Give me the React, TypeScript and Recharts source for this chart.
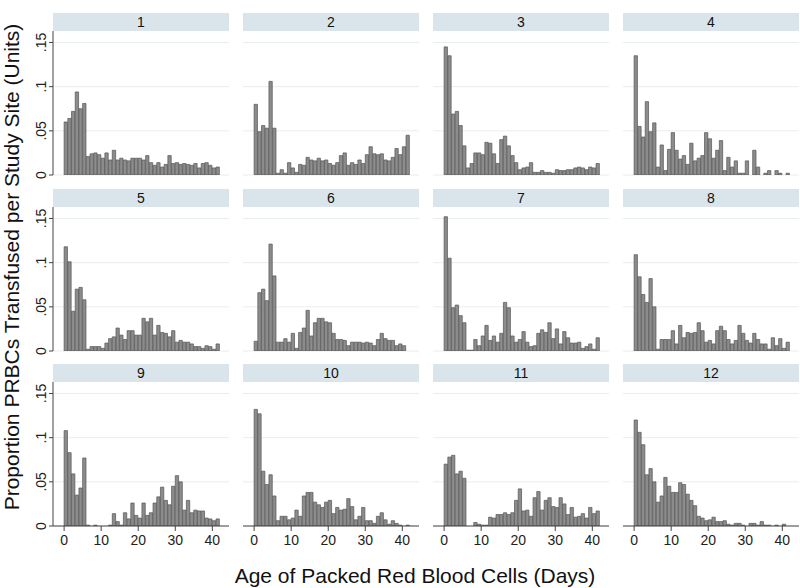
import React from 'react'
import { BarChart, Bar, XAxis, YAxis, CartesianGrid } from 'recharts'

// age of red cells in days, one histogram bin per day
const AGES = [
  0, 1, 2, 3, 4, 5, 6, 7, 8, 9, 10, 11, 12, 13, 14, 15, 16, 17, 18, 19, 20,
  21, 22, 23, 24, 25, 26, 27, 28, 29, 30, 31, 32, 33, 34, 35, 36, 37, 38, 39, 40, 41,
]

const SITE_1 = [0.060, 0.064, 0.072, 0.094, 0.075, 0.081, 0.021, 0.024, 0.025, 0.023, 0.019, 0.025, 0.017, 0.028, 0.017, 0.019, 0.017, 0.016, 0.019, 0.019, 0.019, 0.017, 0.022, 0.014, 0.011, 0.014, 0.009, 0.012, 0.022, 0.013, 0.014, 0.012, 0.013, 0.012, 0.011, 0.013, 0.008, 0.013, 0.014, 0.011, 0.008, 0.009]
const SITE_2 = [0.080, 0.049, 0.056, 0.053, 0.106, 0.053, 0.002, 0.006, 0.002, 0.014, 0.008, 0.003, 0.012, 0.011, 0.020, 0.017, 0.016, 0.019, 0.016, 0.017, 0.013, 0.011, 0.014, 0.022, 0.025, 0.011, 0.014, 0.012, 0.017, 0.013, 0.023, 0.032, 0.024, 0.023, 0.024, 0.017, 0.016, 0.020, 0.030, 0.023, 0.032, 0.045]
const SITE_3 = [0.145, 0.135, 0.069, 0.072, 0.056, 0.033, 0.008, 0.013, 0.025, 0.025, 0.023, 0.037, 0.036, 0.024, 0.013, 0.040, 0.044, 0.033, 0.022, 0.014, 0.006, 0.008, 0.009, 0.014, 0.003, 0.003, 0.005, 0.003, 0.003, 0.002, 0.006, 0.005, 0.005, 0.006, 0.006, 0.008, 0.009, 0.008, 0.006, 0.009, 0.008, 0.013]
const SITE_4 = [0.135, 0.055, 0.043, 0.083, 0.049, 0.059, 0.009, 0.034, 0.005, 0.029, 0.048, 0.028, 0.018, 0.022, 0.012, 0.036, 0.016, 0.019, 0.022, 0.048, 0.041, 0.019, 0.028, 0.039, 0.005, 0.020, 0.009, 0.016, 0.002, 0.002, 0.016, 0, 0.028, 0.009, 0, 0.002, 0.005, 0, 0.005, 0.002, 0, 0.002]
const SITE_5 = [0.118, 0.101, 0.045, 0.070, 0.072, 0.058, 0.002, 0.005, 0.005, 0.005, 0.003, 0.009, 0.014, 0.016, 0.026, 0.018, 0.013, 0.023, 0.023, 0.018, 0.018, 0.037, 0.033, 0.037, 0.018, 0.029, 0.021, 0.020, 0.016, 0.023, 0.010, 0.012, 0.010, 0.010, 0.008, 0.005, 0.005, 0.003, 0.006, 0.005, 0.002, 0.008]
const SITE_6 = [0.011, 0.066, 0.070, 0.057, 0.121, 0.085, 0.010, 0.010, 0.014, 0.010, 0.020, 0.003, 0.021, 0.026, 0.046, 0.017, 0.032, 0.037, 0.037, 0.033, 0.032, 0.020, 0.013, 0.013, 0.012, 0.006, 0.010, 0.010, 0.010, 0.009, 0.010, 0.009, 0.006, 0.013, 0.020, 0.014, 0.012, 0.012, 0.006, 0.008, 0.006, 0]
const SITE_7 = [0.152, 0.105, 0.049, 0.052, 0.040, 0.032, 0.001, 0.001, 0.013, 0.006, 0.017, 0.029, 0.012, 0.017, 0.010, 0.020, 0.055, 0.049, 0.017, 0.010, 0.013, 0.022, 0.010, 0.005, 0.006, 0.020, 0.024, 0.021, 0.032, 0.014, 0.025, 0.008, 0.022, 0.015, 0.009, 0.009, 0.010, 0.003, 0.005, 0.008, 0.002, 0.015]
const SITE_8 = [0.109, 0.084, 0.064, 0.055, 0.082, 0.050, 0.002, 0.013, 0.013, 0.013, 0.023, 0.008, 0.029, 0.015, 0.021, 0.020, 0.021, 0.032, 0.023, 0.010, 0.012, 0.008, 0.023, 0.028, 0.023, 0.013, 0.008, 0.012, 0.029, 0.020, 0.012, 0.009, 0.020, 0.013, 0.008, 0.008, 0.002, 0.015, 0.006, 0.014, 0.003, 0.010]
const SITE_9 = [0.108, 0.083, 0.059, 0.035, 0.043, 0.077, 0.001, 0, 0.001, 0, 0, 0, 0.001, 0.014, 0.005, 0.001, 0.015, 0.008, 0.026, 0.012, 0.009, 0.026, 0.012, 0.015, 0.026, 0.033, 0.044, 0.029, 0.024, 0.045, 0.057, 0.050, 0.018, 0.029, 0.015, 0.018, 0.017, 0.017, 0.009, 0.008, 0.006, 0.008]
const SITE_10 = [0.132, 0.127, 0.062, 0.047, 0.058, 0.034, 0.006, 0.011, 0.011, 0.007, 0.009, 0.018, 0.011, 0.034, 0.038, 0.038, 0.027, 0.024, 0.021, 0.027, 0.029, 0.014, 0.021, 0.018, 0.019, 0.031, 0.022, 0.007, 0.011, 0.021, 0.006, 0.006, 0.003, 0.011, 0.015, 0.007, 0.002, 0.006, 0.003, 0.001, 0, 0.001]
const SITE_11 = [0.070, 0.078, 0.080, 0.059, 0.062, 0.054, 0, 0, 0.004, 0.002, 0.001, 0.001, 0.010, 0.009, 0.013, 0.013, 0.015, 0.013, 0.015, 0.029, 0.042, 0.017, 0.018, 0.011, 0.032, 0.039, 0.018, 0.029, 0.032, 0.022, 0.021, 0.032, 0.025, 0.013, 0.021, 0.010, 0.011, 0.014, 0.009, 0.021, 0.014, 0.017]
const SITE_12 = [0.120, 0.106, 0.092, 0.058, 0.065, 0.050, 0.027, 0.034, 0.055, 0.045, 0.038, 0.038, 0.049, 0.047, 0.036, 0.029, 0.023, 0.011, 0.009, 0.006, 0.007, 0.010, 0.005, 0.005, 0.006, 0.002, 0.001, 0.003, 0.003, 0.001, 0, 0.003, 0.003, 0.001, 0.005, 0.001, 0.001, 0, 0.001, 0, 0.002, 0]

const SITES = [SITE_1, SITE_2, SITE_3, SITE_4, SITE_5, SITE_6, SITE_7, SITE_8, SITE_9, SITE_10, SITE_11, SITE_12]
const SITE_LABELS = ['1', '2', '3', '4', '5', '6', '7', '8', '9', '10', '11', '12']

const Y_TICKS = [0, 0.05, 0.1, 0.15]
const X_TICKS = [0, 10, 20, 30, 40]

const FONT = '"Liberation Sans", Arial, sans-serif'
const COL_X = [53, 243, 433, 623]
const ROW_Y = [13, 189, 364]
const HEADER_H = 18
const PLOT_W = 176
const PLOT_H = 144
const Y_AXIS_W = 53
const X_AXIS_H = 34
const X_DOMAIN = [-3, 44.5]
const BIN_PX = PLOT_W / (X_DOMAIN[1] - X_DOMAIN[0])

const fmtY = (v: number) => (v === 0 ? '0' : String(v).replace(/^0/, ''))

// stata prints the y labels turned on their side
const RotatedTick = (props: any) => {
  const { x, y, payload } = props
  return (
    <text
      x={x}
      y={y}
      transform={`rotate(-90 ${x} ${y})`}
      textAnchor="middle"
      fontSize={14}
      fontFamily={FONT}
      fill="#222"
    >
      {fmtY(payload.value)}
    </text>
  )
}

function Panel({ idx }: { idx: number }) {
  const row = Math.floor(idx / 4)
  const col = idx % 4
  const showY = col === 0
  const showX = row === 2
  const data = AGES.map((age, i) => ({ mid: age + 0.5, share: SITES[idx][i] }))
  const left = showY ? COL_X[col] - Y_AXIS_W : COL_X[col]
  const top = ROW_Y[row] + HEADER_H
  // leave room under the plot so the rotated "0" label isn't clipped
  const bottomPad = showX ? 0 : 8

  return (
    <>
      <div
        style={{
          position: 'absolute',
          left: COL_X[col],
          top: ROW_Y[row],
          width: PLOT_W,
          height: HEADER_H,
          background: '#d9e5eb',
          textAlign: 'center',
          fontSize: 14,
          lineHeight: `${HEADER_H}px`,
          color: '#111',
        }}
      >
        {SITE_LABELS[idx]}
      </div>
      <div style={{ position: 'absolute', left, top }}>
        <BarChart
          width={PLOT_W + (showY ? Y_AXIS_W : 0)}
          height={PLOT_H + (showX ? X_AXIS_H : bottomPad)}
          data={data}
          margin={{ top: 0, right: 0, bottom: bottomPad, left: 0 }}
          barCategoryGap={0}
        >
          <CartesianGrid vertical={false} stroke="#e6eef1" horizontalValues={Y_TICKS} />
          <XAxis
            dataKey="mid"
            type="number"
            domain={X_DOMAIN}
            ticks={X_TICKS}
            interval={0}
            allowDataOverflow
            hide={!showX}
            height={X_AXIS_H}
            tickSize={5}
            tickMargin={4}
            stroke="#444"
            tick={{ fontSize: 14, fill: '#222', fontFamily: FONT }}
          />
          <YAxis
            type="number"
            domain={[0, 0.163]}
            ticks={Y_TICKS}
            interval={0}
            allowDataOverflow
            hide={!showY}
            width={Y_AXIS_W}
            tickSize={4}
            tickMargin={3}
            stroke="#444"
            tick={<RotatedTick />}
          />
          <Bar
            dataKey="share"
            barSize={BIN_PX}
            fill="#8c8c8c"
            stroke="#555"
            strokeWidth={0.7}
            isAnimationActive={false}
          />
        </BarChart>
      </div>
    </>
  )
}

export default function App() {
  return (
    <div
      style={{
        position: 'absolute',
        left: 0,
        top: 0,
        width: 800,
        height: 588,
        background: '#fff',
        fontFamily: FONT,
      }}
    >
      {SITES.map((_, i) => (
        <Panel key={i} idx={i} />
      ))}
      <svg width={800} height={588} style={{ position: 'absolute', left: 0, top: 0, pointerEvents: 'none' }}>
        <text
          x={19}
          y={267}
          transform="rotate(-90 19 267)"
          textAnchor="middle"
          fontSize={21}
          fontFamily={FONT}
          fill="#111"
        >
          Proportion PRBCs Transfused per Study Site (Units)
        </text>
        <text x={415} y={583} textAnchor="middle" fontSize={21} fontFamily={FONT} fill="#111">
          Age of Packed Red Blood Cells (Days)
        </text>
      </svg>
    </div>
  )
}
